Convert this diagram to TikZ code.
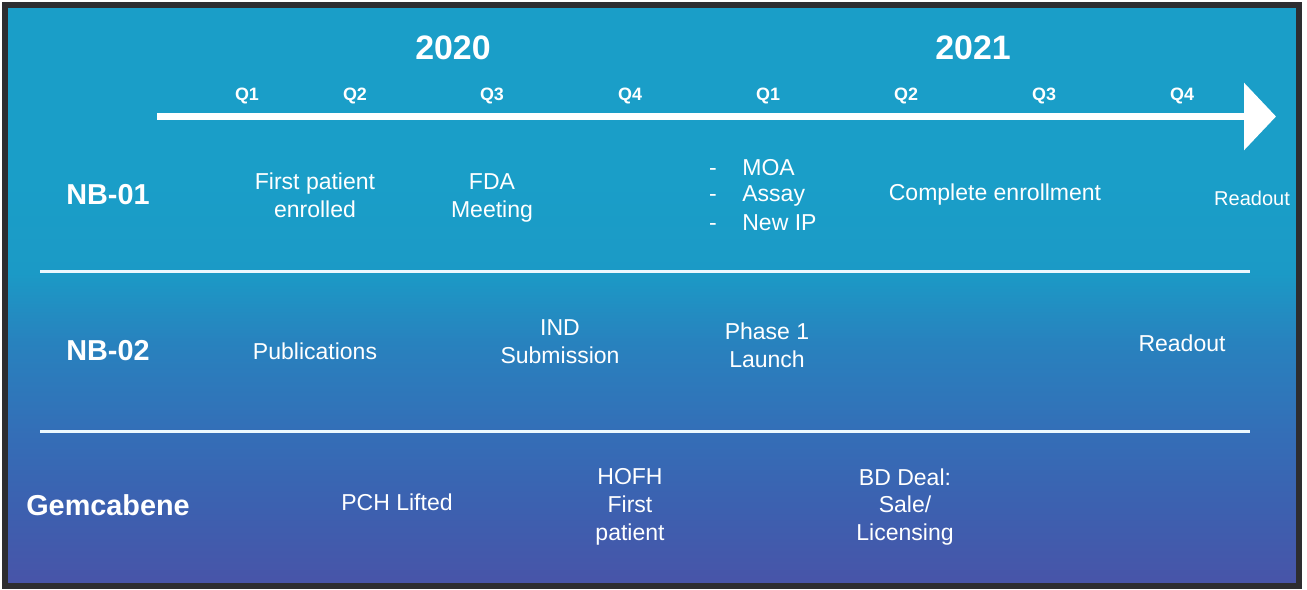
\documentclass[tikz,border=0pt]{standalone}
\usepackage{fontspec}
\setmainfont{Liberation Sans}
\usetikzlibrary{arrows.meta,positioning}
\definecolor{bgtop}{RGB}{26,158,200}
\definecolor{bgA}{RGB}{27,154,198}
\definecolor{bgB}{RGB}{40,130,190}
\definecolor{bgC}{RGB}{52,110,183}
\definecolor{bgD}{RGB}{60,97,176}
\definecolor{bgbot}{RGB}{72,84,168}
\definecolor{frame}{RGB}{45,45,48}
\pgfdeclareverticalshading{roadmapbg}{100bp}{%
  color(0bp)=(bgbot); color(25bp)=(bgbot); color(32bp)=(bgD);
  color(38bp)=(bgC); color(46bp)=(bgB); color(52bp)=(bgA);
  color(60bp)=(bgtop); color(75bp)=(bgtop); color(100bp)=(bgtop)}
\tikzset{
  yr/.style={text=white, font=\bfseries\fontsize{19.3}{22}\selectfont},
  qtr/.style={text=white, font=\bfseries\fontsize{10.2}{12}\selectfont},
  prog/.style={text=white, font=\bfseries\fontsize{16.4}{19}\selectfont},
  event/.style={text=white, align=center, inner sep=0pt, font=\fontsize{13.1}{15.9}\selectfont},
  smallevent/.style={event, font=\fontsize{11.4}{13}\selectfont},
  sep/.style={draw=white!92!cyan, line width=0.06cm},
  timeline/.style={draw=white, line width=0.14cm, -{Triangle[length=0.64cm,width=1.32cm]}}
}
\begin{document}
\begin{tikzpicture}[x=0.02cm,y=-0.02cm]
\useasboundingbox (0,0) rectangle (1307,589);

% Panel
\shade[shading=roadmapbg] (7,7) rectangle (1297,585);
\draw[frame, line width=0.12cm] (5,5) rectangle (1299,586);

% Years and quarters
\node[yr] (y2020) at (453,48) {2020};
\node[yr] (y2021) at (973,48) {2021};
\foreach \q/\x [count=\i] in {Q1/247,Q2/355,Q3/492,Q4/630,Q1/768,Q2/906,Q3/1044,Q4/1182}
  \node[qtr] (q\i) at (\x,96) {\q};

% Time axis
\coordinate (tl-start) at (157,116.5);
\coordinate (tl-end) at (1276,116.5);
\draw[timeline] (tl-start) -- (tl-end);

% Row separators
\coordinate (sepA-l) at (40,271);
\coordinate (sepA-r) at (1250,271);
\coordinate (sepB-l) at (40,431);
\coordinate (sepB-r) at (1250,431);
\draw[sep] (sepA-l) -- (sepA-r);
\draw[sep] (sepB-l) -- (sepB-r);

% NB-01
\node[prog] (nb01) at (108,195) {NB-01};
\node[event] (nb01-fp) at (315,195) {First patient\\enrolled};
\node[event] (nb01-fda) at (492,198) {FDA\\Meeting};
\coordinate (dashcol) at (713,0);
\foreach \t/\y [count=\i] in {MOA/168,Assay/196,New IP/223} {
  \node[event, anchor=west] (nb01-i\i) at (742,\y) {\t};
  \node[event, anchor=base] (nb01-d\i) at (nb01-i\i.base -| dashcol) {-};
}
\node[event] (nb01-ce) at (995,195) {Complete enrollment};
\node[smallevent] (nb01-ro) at (1252,198) {Readout};

% NB-02
\node[prog] (nb02) at (108,351) {NB-02};
\node[event] (nb02-pub) at (315,351) {Publications};
\node[event] (nb02-ind) at (560,342) {IND\\Submission};
\node[event] (nb02-ph1) at (767,345) {Phase 1\\Launch};
\node[event] (nb02-ro) at (1182,343) {Readout};

% Gemcabene
\node[prog] (gem) at (108,505) {Gemcabene};
\node[event] (gem-pch) at (397,502) {PCH Lifted};
\node[event] (gem-hofh) at (630,507) {HOFH\\First\\patient};
\node[event] (gem-bd) at (905,507) {BD Deal:\\Sale/\\Licensing};
\end{tikzpicture}
\end{document}
